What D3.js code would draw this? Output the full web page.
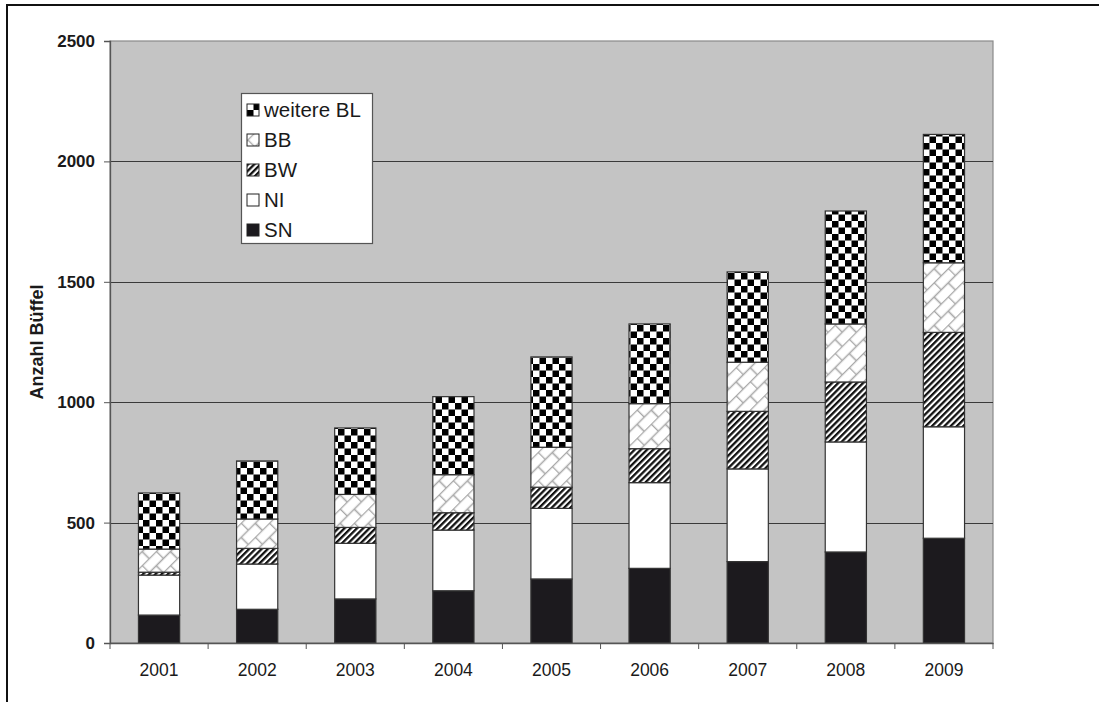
<!DOCTYPE html>
<html>
<head>
<meta charset="utf-8">
<script src="https://cdn.jsdelivr.net/npm/d3@7"></script>
<style>
  html, body { margin: 0; padding: 0; background: #fff; }
  svg { display: block; font-family: "Liberation Sans", Arial, sans-serif; }
</style>
</head>
<body>
<svg id="chart" width="1099" height="702"></svg>
<script>
// Buffalo counts per year, stacked by federal state (bottom to top)
const years = ["2001", "2002", "2003", "2004", "2005", "2006", "2007", "2008", "2009"];
const seriesKeys = ["SN", "NI", "BW", "BB", "weitere BL"];
const SN      = [116, 140, 183, 217, 266, 310, 338, 378, 435];
const NI      = [166, 188, 231, 252, 293, 356, 385, 457, 463];
const BW      = [ 12,  65,  66,  72,  88, 141, 239, 249, 392];
const BB      = [ 96, 122, 137, 158, 166, 187, 204, 241, 289];
const weitere = [233, 241, 276, 324, 375, 331, 375, 469, 533];
const yTicks = [0, 500, 1000, 1500, 2000, 2500];
const yTitle = "Anzahl Büffel";

const values = { "SN": SN, "NI": NI, "BW": BW, "BB": BB, "weitere BL": weitere };
const rows = years.map((y, i) => {
  const r = { year: y };
  seriesKeys.forEach(k => { r[k] = values[k][i]; });
  return r;
});

const svg = d3.select("#chart");
const plot = { left: 110, right: 993, top: 41, bottom: 643 };

// ---- fill patterns ----
const defs = svg.append("defs");

// large checkerboard
const chk = defs.append("pattern").attr("id", "pChecker")
  .attr("patternUnits", "userSpaceOnUse").attr("width", 13).attr("height", 13);
chk.append("rect").attr("width", 13).attr("height", 13).attr("fill", "#fff");
chk.append("rect").attr("width", 6.5).attr("height", 6.5).attr("fill", "#000");
chk.append("rect").attr("x", 6.5).attr("y", 6.5).attr("width", 6.5).attr("height", 6.5).attr("fill", "#000");

// diagonal brick in light grey
const brick = defs.append("pattern").attr("id", "pBrick")
  .attr("patternUnits", "userSpaceOnUse").attr("width", 20).attr("height", 20)
  .attr("patternTransform", "rotate(-45)");
brick.append("rect").attr("width", 20).attr("height", 20).attr("fill", "#fff");
const bp = "M0,0.5H20 M0,10.5H20 M0.5,0V10 M10.5,10V20";
brick.append("path").attr("d", bp).attr("stroke", "#a8a8a8").attr("stroke-width", 1.6).attr("fill", "none");

// wide diagonal stripes
const stripe = defs.append("pattern").attr("id", "pStripe")
  .attr("patternUnits", "userSpaceOnUse").attr("width", 4.4).attr("height", 10)
  .attr("patternTransform", "rotate(45)");
stripe.append("rect").attr("width", 4.4).attr("height", 10).attr("fill", "#fff");
stripe.append("rect").attr("width", 2.3).attr("height", 10).attr("fill", "#111");

const fills = {
  "SN": "#1c1a1e",
  "NI": "#ffffff",
  "BW": "url(#pStripe)",
  "BB": "url(#pBrick)",
  "weitere BL": "url(#pChecker)"
};

// ---- outer frame ----
svg.append("rect").attr("x", 7).attr("y", 5).attr("width", 1200).attr("height", 800)
  .attr("fill", "none").attr("stroke", "#111").attr("stroke-width", 2);

// ---- scales ----
const xOuter = d3.scaleBand().domain(years).range([plot.left, plot.right]).padding(0);
const x = d3.scaleBand().domain(years).range([plot.left, plot.right])
  .paddingInner(0.58).paddingOuter(0.29);
const y = d3.scaleLinear().domain([0, 2500]).range([plot.bottom, plot.top]);

// plot background
svg.append("rect")
  .attr("x", plot.left).attr("y", plot.top)
  .attr("width", plot.right - plot.left).attr("height", plot.bottom - plot.top)
  .attr("fill", "#c4c4c4").attr("stroke", "#8a8a8a").attr("stroke-width", 1.2);

// gridlines
svg.append("g").selectAll("line").data(yTicks.filter(t => t > 0 && t < 2500)).join("line")
  .attr("x1", plot.left).attr("x2", plot.right)
  .attr("y1", d => Math.round(y(d)) + 0.5).attr("y2", d => Math.round(y(d)) + 0.5)
  .attr("stroke", "#3a3a3a").attr("stroke-width", 1);

// stacked bars
const stacked = d3.stack().keys(seriesKeys)(rows);
svg.append("g").selectAll("g").data(stacked).join("g")
  .attr("fill", d => fills[d.key])
  .selectAll("rect").data(d => d).join("rect")
  .attr("x", d => x(d.data.year))
  .attr("width", x.bandwidth())
  .attr("y", d => y(d[1]))
  .attr("height", d => y(d[0]) - y(d[1]))
  .attr("stroke", "#333").attr("stroke-width", 1.2);

// y axis
const yAxis = svg.append("g").attr("transform", `translate(${plot.left},0)`)
  .call(d3.axisLeft(y).tickValues(yTicks).tickSize(6).tickPadding(9).tickFormat(d3.format("d")));
yAxis.select(".domain").attr("stroke", "#555").attr("stroke-width", 1.3);
yAxis.selectAll(".tick line").attr("stroke", "#555");
yAxis.selectAll("text").attr("font-size", 17).attr("font-weight", "bold").attr("fill", "#1a1a1a")
  .attr("font-family", "Liberation Sans, Arial, sans-serif");

// x axis: labels at band centres, tick marks at band boundaries
const xAxis = svg.append("g").attr("transform", `translate(0,${plot.bottom})`)
  .call(d3.axisBottom(xOuter).tickSize(0).tickPadding(21));
xAxis.select(".domain").attr("stroke", "#555").attr("stroke-width", 1.3);
xAxis.selectAll("text").attr("font-size", 17.5).attr("fill", "#1a1a1a")
  .attr("font-family", "Liberation Sans, Arial, sans-serif");
const bounds = years.map(yv => xOuter(yv)).concat([plot.right]);
xAxis.append("g").selectAll("line").data(bounds).join("line")
  .attr("x1", d => d).attr("x2", d => d).attr("y1", 0).attr("y2", 6)
  .attr("stroke", "#555").attr("stroke-width", 1);

// y axis title
svg.append("text")
  .attr("transform", `translate(43,${(plot.top + plot.bottom) / 2}) rotate(-90)`)
  .attr("text-anchor", "middle")
  .attr("font-size", 18).attr("font-weight", "bold").attr("fill", "#1a1a1a")
  .text(yTitle);

// legend (top entry is the top of the stack)
const legend = svg.append("g");
legend.append("rect").attr("x", 241.5).attr("y", 93.5).attr("width", 131).attr("height", 150)
  .attr("fill", "#fff").attr("stroke", "#555").attr("stroke-width", 1.2);
const legendKeys = seriesKeys.slice().reverse();
const li = legend.selectAll("g.item").data(legendKeys).join("g").attr("class", "item")
  .attr("transform", (d, i) => `translate(247,${110 + i * 30})`);
li.append("rect").attr("x", 0).attr("y", -6).attr("width", 12).attr("height", 12)
  .attr("fill", d => fills[d]).attr("stroke", "#222").attr("stroke-width", 1);
li.append("text").attr("x", 17).attr("y", 0).attr("dy", "0.36em")
  .attr("font-size", 20.5).attr("fill", "#1a1a1a").text(d => d);
</script>
</body>
</html>
